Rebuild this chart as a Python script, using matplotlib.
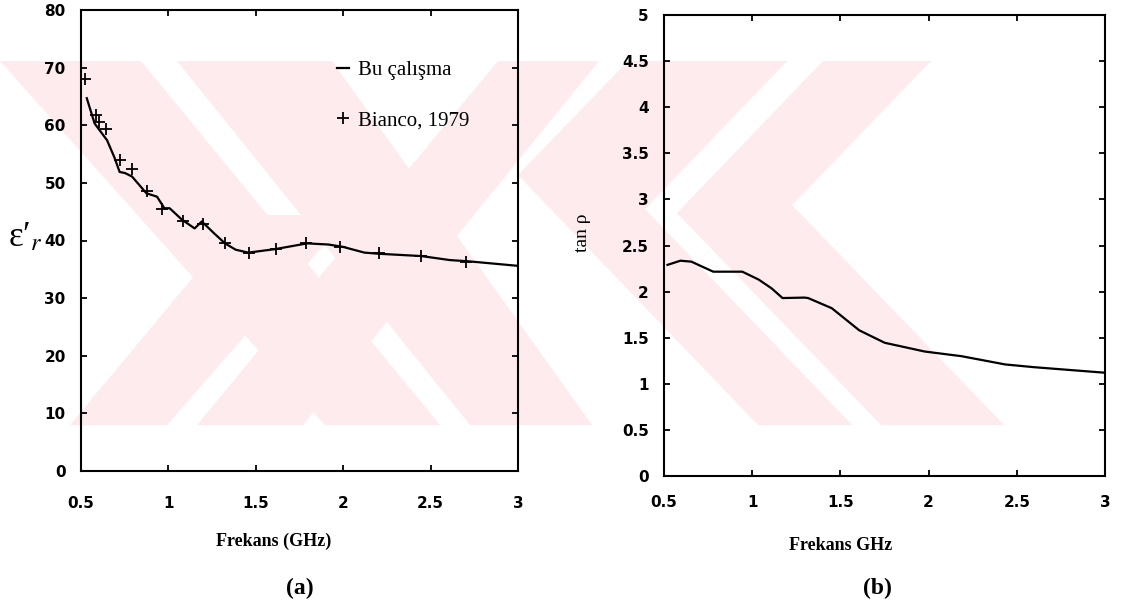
import matplotlib
matplotlib.use("Agg")
import matplotlib.pyplot as plt
from matplotlib.patches import Polygon
from matplotlib.ticker import FuncFormatter

plt.rcParams["mathtext.fontset"] = "stix"

# (a) dielectric constant, this work
freq_a = [0.533, 0.578, 0.649, 0.690, 0.721, 0.752, 0.792, 0.874, 0.935, 0.977,
          1.007, 1.078, 1.150, 1.191, 1.263, 1.324, 1.385, 1.457, 1.610, 1.794,
          1.916, 1.998, 2.121, 2.203, 2.447, 2.611, 2.713, 3.0]
eps_a = [64.7, 60.3, 57.4, 54.5, 51.9, 51.7, 51.1, 48.2, 47.6, 45.6,
         45.6, 43.6, 42.1, 43.3, 41.2, 39.5, 38.4, 37.9, 38.5, 39.5,
         39.3, 38.9, 37.9, 37.7, 37.3, 36.6, 36.4, 35.6]

# (a) Bianco, 1979
freq_b = [0.523, 0.584, 0.605, 0.645, 0.721, 0.792, 0.878, 0.966, 1.083, 1.197,
          1.324, 1.461, 1.614, 1.788, 1.984, 2.207, 2.443, 2.703]
eps_b = [68.1, 61.8, 60.5, 59.3, 54.0, 52.4, 48.6, 45.4, 43.4, 42.9,
         39.5, 37.8, 38.5, 39.5, 38.9, 37.8, 37.3, 36.2]

# (b) loss tangent
freq_t = [0.52, 0.593, 0.655, 0.779, 0.944, 1.037, 1.110, 1.172, 1.296, 1.317,
          1.451, 1.607, 1.751, 1.978, 2.185, 2.434, 2.599, 3.0]
tan_t = [2.29, 2.335, 2.325, 2.216, 2.216, 2.13, 2.035, 1.93, 1.935, 1.93,
         1.82, 1.58, 1.445, 1.35, 1.30, 1.21, 1.18, 1.12]

xticks = [0.5, 1, 1.5, 2, 2.5, 3]
yticks_a = list(range(0, 81, 10))
yticks_b = [0, 0.5, 1, 1.5, 2, 2.5, 3, 3.5, 4, 4.5, 5]

W, H = 1132, 611

# faint background watermark of the scanned page (pixel outlines, y down)
wm_color = "#fdebee"
wm_shapes = [
    # "X", double-lined arms
    [(0, 61), (141, 61), (440, 425), (325, 425)],
    [(177, 61), (332, 61), (592, 425), (470, 425)],
    [(498, 61), (599, 61), (303, 425), (197, 425)],
    [(245, 215), (350, 215), (167, 425), (70, 425)],
    # "<", double-lined arms
    [(628, 61), (787, 61), (645, 209), (852, 425), (758, 425), (518, 175)],
    [(823, 61), (931, 61), (792, 205), (1004, 425), (881, 425), (677, 213)],
]

fig = plt.figure(figsize=(W / 100, H / 100), dpi=100)
fig.patch.set_facecolor("white")
for shape in wm_shapes:
    pts = [(x / W, 1 - y / H) for x, y in shape]
    fig.patches.append(Polygon(pts, closed=True, transform=fig.transFigure,
                               facecolor=wm_color, edgecolor="none", zorder=-5))

serif = "Liberation Serif"
fmt = FuncFormatter(lambda v, p: "%g" % v)


def style(ax, xpad):
    ax.set_facecolor("none")
    for s in ax.spines.values():
        s.set_linewidth(1.5)
    ax.tick_params(direction="in", top=True, right=True, length=4, width=1.3)
    ax.tick_params(axis="x", pad=xpad)
    ax.tick_params(axis="y", pad=11)
    for lab in ax.get_xticklabels() + ax.get_yticklabels():
        lab.set_fontfamily("DejaVu Sans")
        lab.set_fontweight("bold")
        lab.set_fontsize(11)
    ax.xaxis.set_major_formatter(fmt)
    ax.yaxis.set_major_formatter(fmt)


ax1 = fig.add_axes([81 / W, (H - 471) / H, 437 / W, 461 / H])
ax1.plot(freq_a, eps_a, "-", color="black", lw=1.6, label="Bu çalışma")
ax1.plot(freq_b, eps_b, "+", color="black", ms=9, mew=1.3, label="Bianco, 1979")
ax1.set_xlim(0.5, 3)
ax1.set_ylim(0, 80)
ax1.set_xticks(xticks)
ax1.set_yticks(yticks_a)
style(ax1, 18)
ax1.set_xlabel("Frekans (GHz)", fontfamily=serif, fontweight="bold", fontsize=13)
ax1.xaxis.set_label_coords(0.44, -0.134)
ax1.legend(loc="upper left", bbox_to_anchor=(0.586, 0.89), frameon=False,
           borderpad=0, borderaxespad=0, handlelength=0.55, handletextpad=0.45,
           labelspacing=1.45, prop={"family": serif, "size": 15})

# y label of (a): epsilon prime with subscript r
fig.text(8 / W, 1 - 238 / H, "ε′$_{r}$", ha="left", va="center",
         fontfamily=serif, fontsize=25)

ax2 = fig.add_axes([664 / W, (H - 476) / H, 441 / W, 461 / H])
ax2.plot(freq_t, tan_t, "-", color="black", lw=1.6)
ax2.set_xlim(0.5, 3)
ax2.set_ylim(0, 5)
ax2.set_xticks(xticks)
ax2.set_yticks(yticks_b)
style(ax2, 14)
ax2.set_xlabel("Frekans GHz", fontfamily=serif, fontweight="bold", fontsize=13)
ax2.xaxis.set_label_coords(0.40, -0.132)
ax2.set_ylabel("tan ρ", fontfamily=serif, fontsize=14)
ax2.yaxis.set_label_coords(-0.166, 0.527)

fig.text(300 / W, (H - 588) / H, "(a)", ha="center", va="center",
         fontfamily=serif, fontweight="bold", fontsize=17)
fig.text(877 / W, (H - 588) / H, "(b)", ha="center", va="center",
         fontfamily=serif, fontweight="bold", fontsize=17)

fig.savefig("out.png", dpi=100)
